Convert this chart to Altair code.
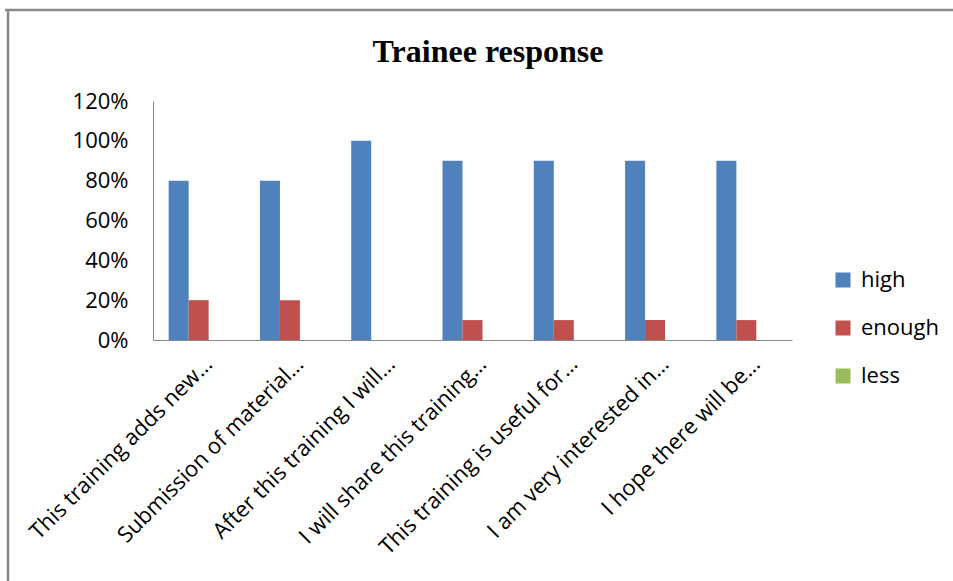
import altair as alt
import pandas as pd

# Survey statements (labels truncated as shown on the axis)
questions = [
    "This training adds new…",
    "Submission of material…",
    "After this training I will…",
    "I will share this training…",
    "This training is useful for…",
    "I am very interested in…",
    "I hope there will be…",
]
levels = ["high", "enough", "less"]
level_colors = ["#4F81BD", "#C0504D", "#9BBB59"]

# Share of trainees per response level
high = [0.80, 0.80, 1.00, 0.90, 0.90, 0.90, 0.90]
enough = [0.20, 0.20, 0.00, 0.10, 0.10, 0.10, 0.10]
less = [0.00, 0.00, 0.00, 0.00, 0.00, 0.00, 0.00]

chart_title = "Trainee response"

rows = []
for i, q in enumerate(questions):
    for lvl, vals in zip(levels, [high, enough, less]):
        rows.append({"question": q, "level": lvl, "share": vals[i]})
df = pd.DataFrame(rows)

FONT = "Open Sans"
AXIS_GRAY = "#868686"

bars = alt.Chart(df).mark_bar().encode(
    x=alt.X(
        "question:N",
        sort=questions,
        scale=alt.Scale(paddingInner=0.343, paddingOuter=0.1715),
        axis=alt.Axis(
            title=None,
            labelAngle=-45,
            labelAlign="right",
            labelBaseline="top",
            labelFont=FONT,
            labelFontSize=22,
            labelColor="#000000",
            labelPadding=13,
            labelOffset=3,
            labelLimit=400,
            ticks=False,
            tickSize=0,
            domainColor=AXIS_GRAY,
            domainWidth=1,
        ),
    ),
    xOffset=alt.XOffset(
        "level:N", sort=levels, scale=alt.Scale(paddingInner=0, paddingOuter=0)
    ),
    y=alt.Y(
        "share:Q",
        scale=alt.Scale(domain=[0, 1.2], nice=False, zero=True),
        axis=alt.Axis(
            title=None,
            values=[0, 0.2, 0.4, 0.6, 0.8, 1.0, 1.2],
            format=".0%",
            grid=False,
            ticks=False,
            tickSize=0,
            labelFont=FONT,
            labelFontSize=22,
            labelColor="#000000",
            labelPadding=25,
            domainColor=AXIS_GRAY,
            domainWidth=1,
        ),
    ),
    color=alt.Color(
        "level:N",
        sort=levels,
        scale=alt.Scale(domain=levels, range=level_colors),
        legend=alt.Legend(
            title=None,
            orient="none",
            legendX=679,
            legendY=168,
            symbolType="square",
            symbolSize=225,
            symbolStrokeWidth=0,
            labelFont=FONT,
            labelFontSize=22,
            labelColor="#000000",
            labelOffset=7,
            rowPadding=26,
            padding=0,
        ),
    ),
)

# Chart-area border along the top and left edges, plus the heading
deco = alt.Chart(pd.DataFrame({"part": ["top", "left", "title"]}))
top_edge = deco.transform_filter(alt.datum.part == "top").mark_rule(
    color="#8a8a8a", strokeWidth=2.5
).encode(x=alt.value(-148), x2=alt.value(800), y=alt.value(-91))
left_edge = deco.transform_filter(alt.datum.part == "left").mark_rule(
    color="#8a8a8a", strokeWidth=2.5
).encode(x=alt.value(-145), y=alt.value(-92), y2=alt.value(480))
heading = deco.transform_filter(alt.datum.part == "title").mark_text(
    text=chart_title,
    font="Liberation Serif",
    fontSize=32,
    fontWeight="bold",
    color="#000000",
    align="center",
    baseline="alphabetic",
).encode(x=alt.value(335), y=alt.value(-39))

chart = (
    alt.layer(bars, top_edge, left_edge, heading)
    .properties(
        width=639,
        height=239,
        autosize=alt.AutoSizeParams(type="none"),
        padding={"left": 153, "top": 101, "right": 161, "bottom": 241},
        background="white",
    )
    .configure_view(stroke=None)
)

chart.save("out.html", embed_options={"renderer": "svg", "actions": False})
